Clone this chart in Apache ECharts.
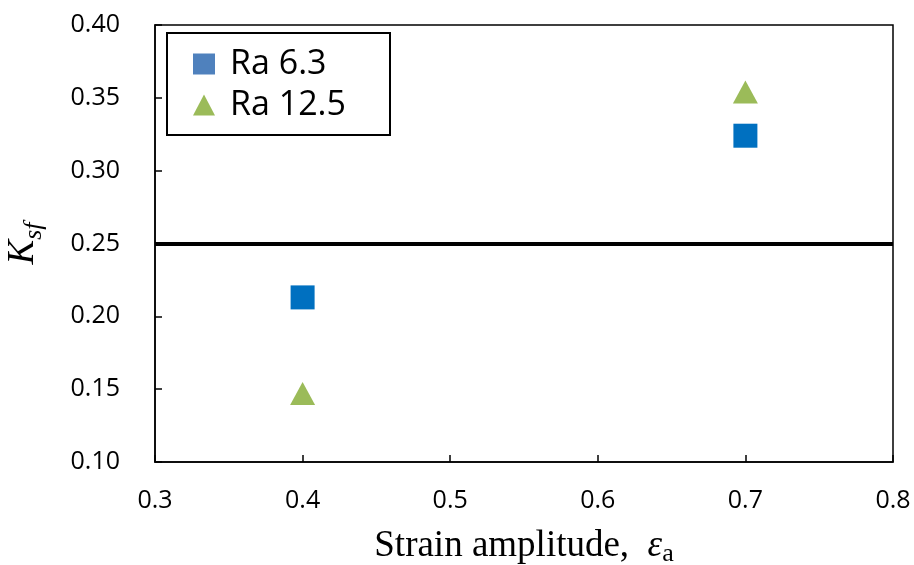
<!DOCTYPE html>
<html><head><meta charset="utf-8">
<script src="https://cdn.jsdelivr.net/npm/echarts@6/dist/echarts.min.js"></script>
<style>html,body{margin:0;padding:0;background:#fff}#c{width:914px;height:565px}</style>
</head><body><div id="c"></div>
<script>
const seriesNames = ['Ra 6.3', 'Ra 12.5'];
const strainRa63 = [0.4, 0.7];
const ksfRa63 = [0.213, 0.324];
const strainRa125 = [0.4, 0.7];
const ksfRa125 = [0.147, 0.354];
const thresholdKsf = 0.25;
const xTicks = [0.3, 0.4, 0.5, 0.6, 0.7, 0.8];
const yTicks = [0.10, 0.15, 0.20, 0.25, 0.30, 0.35, 0.40];

const chart = echarts.init(document.getElementById('c'));
const axisFont = 'Open Sans';
chart.setOption({
  animation: false,
  grid: {left: 155, right: 21, top: 25, bottom: 103, containLabel: false, outerBoundsMode: 'none',
    show: true, borderColor: '#000', borderWidth: 1.5},
  xAxis: {
    type: 'value', min: xTicks[0], max: xTicks[xTicks.length-1], interval: 0.1,
    axisLine: {lineStyle: {color: '#000', width: 1.5}},
    axisTick: {inside: true, length: 7, lineStyle: {color: '#000', width: 1.5}},
    splitLine: {show: false},
    axisLabel: {color: '#000', fontFamily: axisFont, fontSize: 25, margin: 26, formatter: v => v.toFixed(1)},
    name: '{t|Strain amplitude,  }{e|ε}{s|a}', nameLocation: 'middle', nameGap: 63,
    nameTextStyle: {rich: {
      t: {fontFamily: 'Liberation Serif', fontSize: 37, color: '#000'},
      e: {fontFamily: 'Liberation Serif', fontStyle: 'italic', fontSize: 37, color: '#000'},
      s: {fontFamily: 'Liberation Serif', fontSize: 26, color: '#000', verticalAlign: 'bottom', padding: [16, 0, 0, 0]}
    }}
  },
  yAxis: {
    type: 'value', min: yTicks[0], max: yTicks[yTicks.length-1], interval: 0.05,
    axisLine: {lineStyle: {color: '#000', width: 1.5}},
    axisTick: {inside: true, length: 7, lineStyle: {color: '#000', width: 1.5}},
    splitLine: {show: false},
    axisLabel: {color: '#000', fontFamily: axisFont, fontSize: 25, margin: 35, formatter: v => v.toFixed(2)},
    name: '{k|K}{s|sf}', nameLocation: 'middle', nameGap: 108, nameRotate: 90,
    nameTextStyle: {rich: {
      k: {fontFamily: 'Liberation Serif', fontStyle: 'italic', fontSize: 37, color: '#000'},
      s: {fontFamily: 'Liberation Serif', fontStyle: 'italic', fontSize: 26, color: '#000', verticalAlign: 'bottom', padding: [22, 0, 0, 0]}
    }}
  },
  legend: {
    left: 188, top: 42, orient: 'vertical', itemGap: 7, itemWidth: 22, itemHeight: 21,
    textStyle: {fontFamily: axisFont, fontSize: 34, color: '#000', padding: [0, 0, 0, 10], lineHeight: 32},
    data: [
      {name: seriesNames[0], icon: 'rect', itemStyle: {color: '#4F81BD', opacity: 1}},
      {name: seriesNames[1], icon: 'triangle', itemStyle: {color: '#9BBB59', opacity: 1}}
    ]
  },
  graphic: [{type: 'rect', shape: {x: 167, y: 33, width: 223, height: 102}, style: {fill: 'none', stroke: '#000', lineWidth: 2}, z: 10}],
  series: [
    {name: seriesNames[0], type: 'scatter', symbol: 'rect', symbolSize: 24,
      itemStyle: {color: '#0070C0', opacity: 1}, data: strainRa63.map((x, i) => [x, ksfRa63[i]]),
      markLine: {silent: true, symbol: 'none', label: {show: false}, lineStyle: {color: '#000', width: 4, type: 'solid'}, data: [{yAxis: thresholdKsf}]}
    },
    {name: seriesNames[1], type: 'scatter', symbol: 'triangle', symbolSize: [25, 23],
      itemStyle: {color: '#9BBB59', opacity: 1}, data: strainRa125.map((x, i) => [x, ksfRa125[i]])}
  ]
});
</script></body></html>
